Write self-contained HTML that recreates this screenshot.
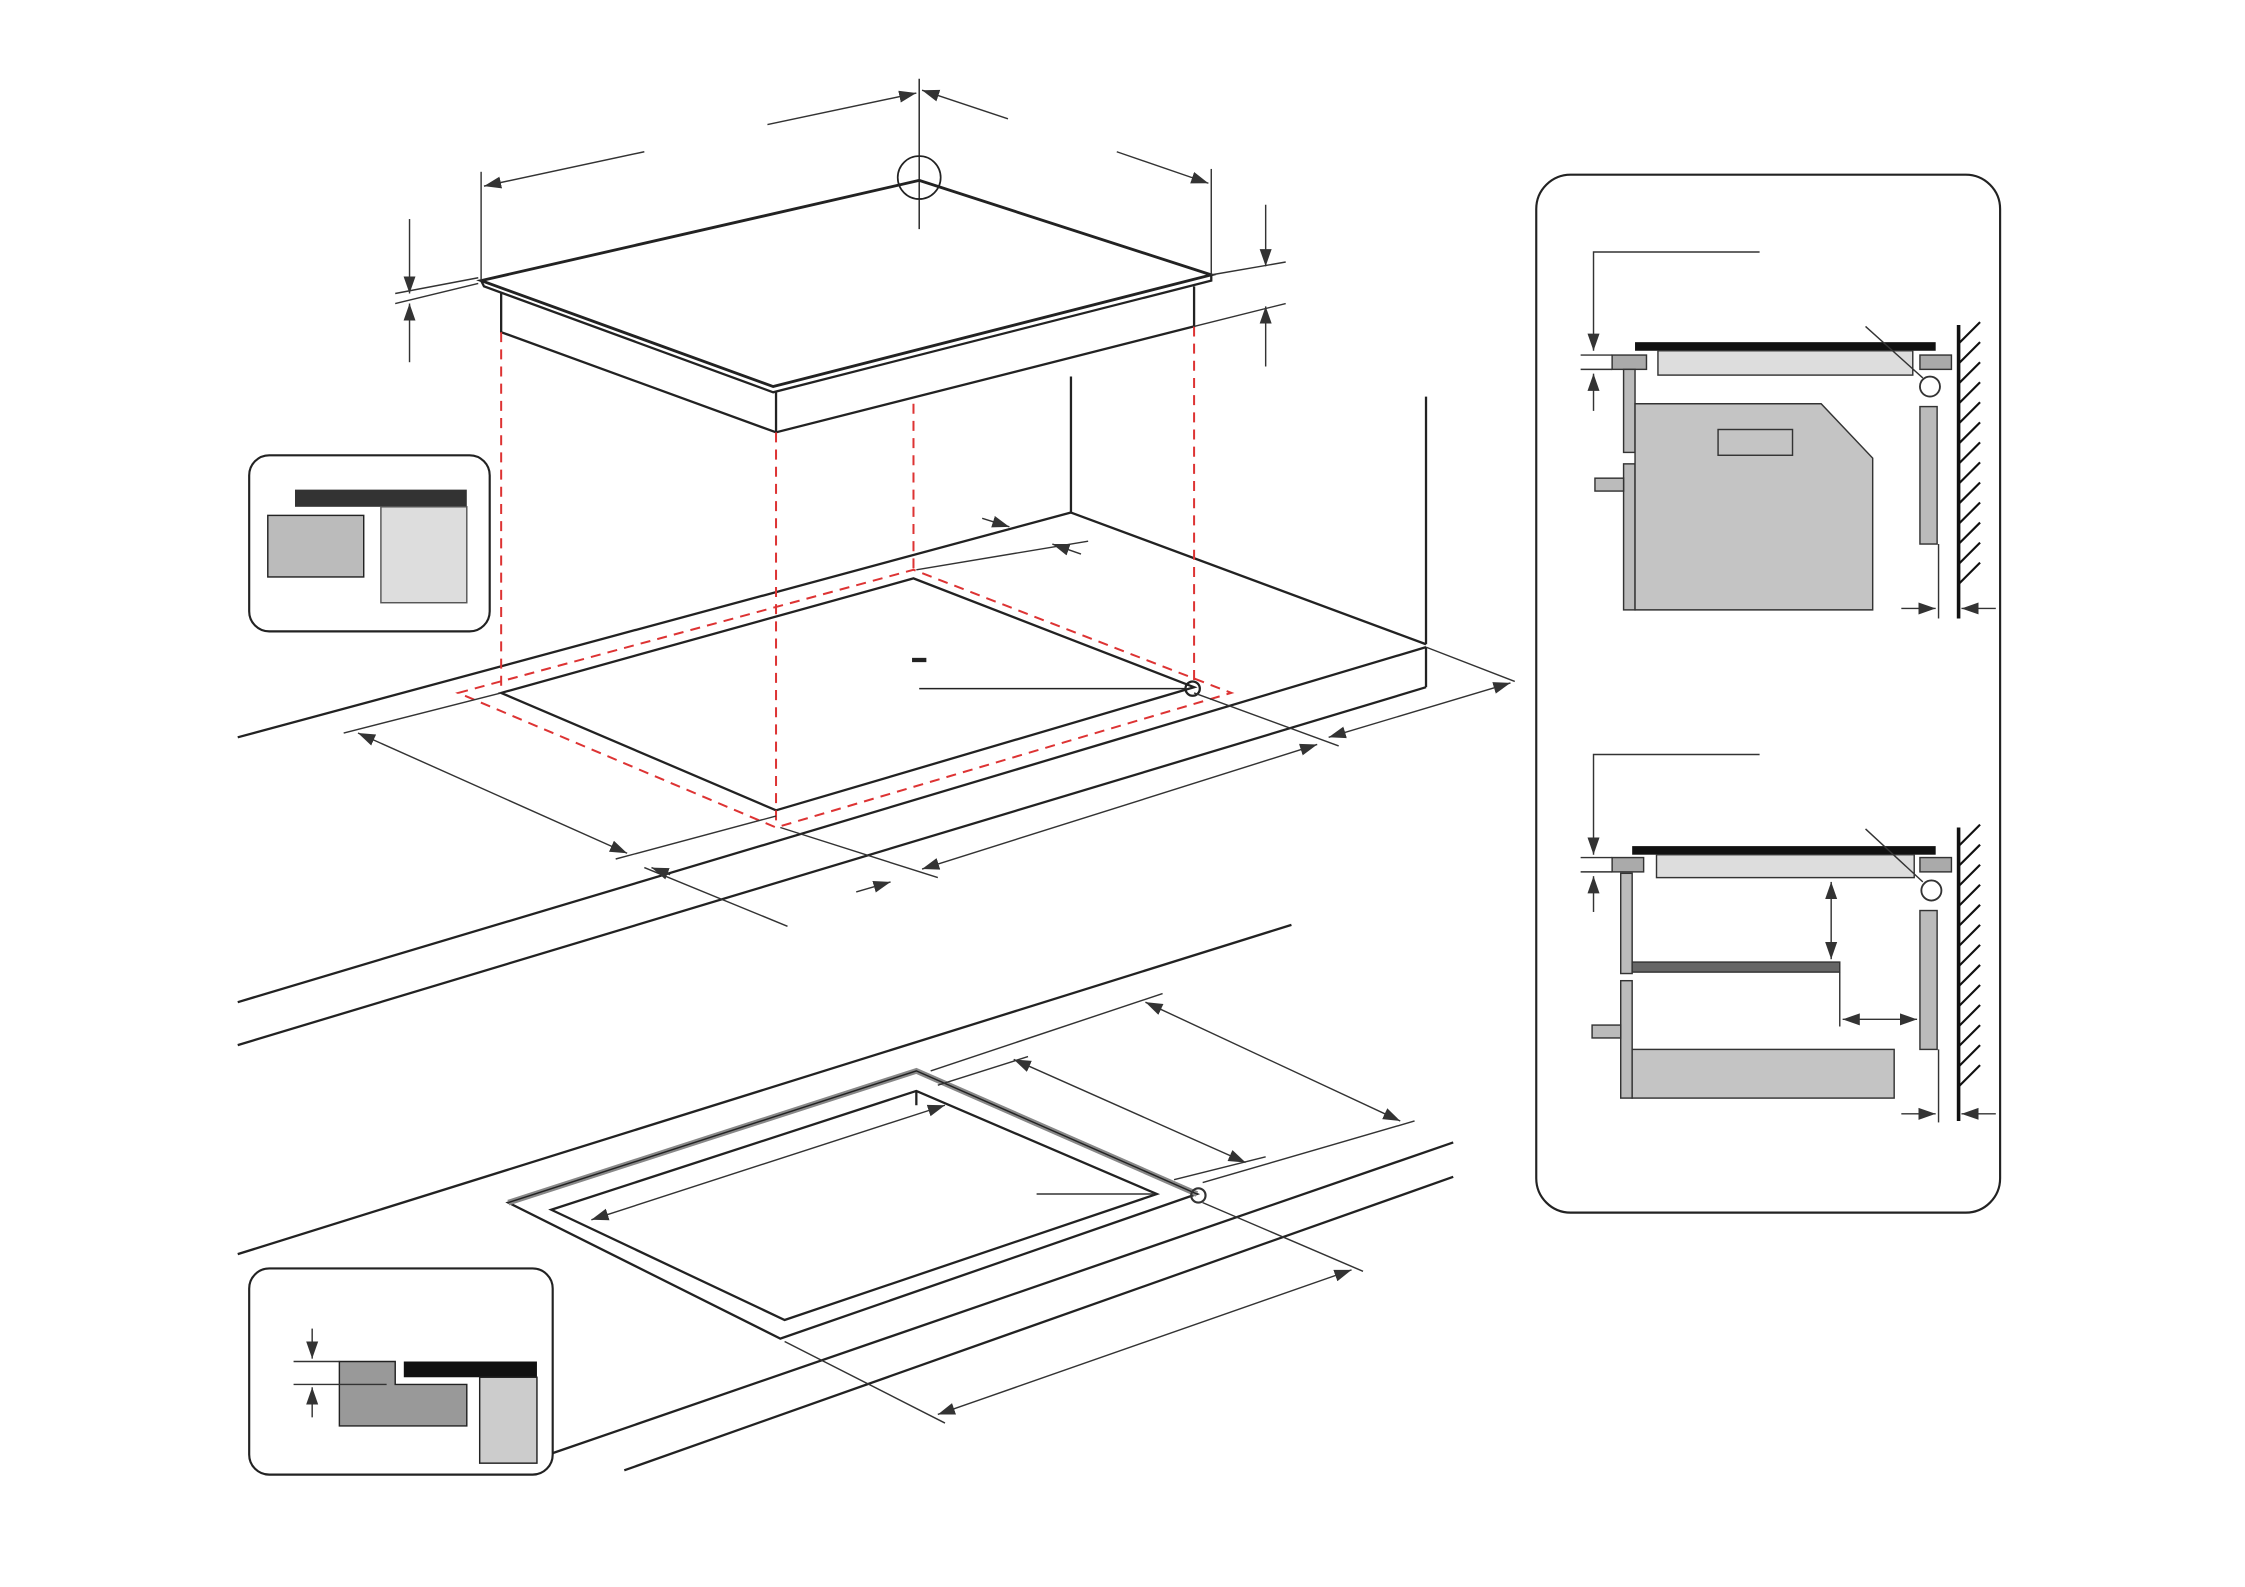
<!DOCTYPE html>
<html><head><meta charset="utf-8"><style>html,body{margin:0;padding:0;background:#fff}svg{display:block}</style></head><body>
<svg width="2245" height="1587" viewBox="0 0 1568 1108.5" xmlns="http://www.w3.org/2000/svg">
<defs><marker id="a" viewBox="0 0 10 10" refX="10" refY="5" markerWidth="12" markerHeight="12" markerUnits="userSpaceOnUse" orient="auto-start-reverse"><path d="M0,1.5 L10,5 L0,8.5z" fill="#333"/></marker></defs>
<g fill="none" stroke="#222" stroke-width="1.6">
<polygon points="336,196 642,126 846,192 540,270" stroke-width="2"/>
<polyline points="336,196 338,200 540,274 846,196 846,192"/>
<polyline points="350,205 350,232 542,302 834,228 834,200"/>
<line x1="542" y1="274" x2="542" y2="302"/>
<circle cx="642" cy="124" r="15" stroke-width="1.2"/>
<line x1="642" y1="55" x2="642" y2="160" stroke-width="1"/>
<line x1="166" y1="515" x2="748" y2="358"/>
<line x1="748" y1="358" x2="996" y2="450"/>
<line x1="166" y1="700" x2="996" y2="452"/>
<line x1="166" y1="730" x2="996" y2="480"/>
<line x1="996" y1="452" x2="996" y2="480"/>
<line x1="748" y1="263" x2="748" y2="358"/>
<line x1="996" y1="277" x2="996" y2="450"/>
<polygon points="350,484 638,404 834,480 542,566"/>
<circle cx="833" cy="481" r="5"/>
<line x1="642" y1="481" x2="828" y2="481" stroke-width="1"/>
<line x1="637" y1="461" x2="647" y2="461" stroke-width="3"/>
</g>
<g fill="none" stroke="#d33" stroke-width="1.4" stroke-dasharray="7,5">
<polygon points="320,484 638,398 860,484 542,578"/>
<line x1="350" y1="232" x2="350" y2="484"/><line x1="542" y1="302" x2="542" y2="578"/>
<line x1="638" y1="282" x2="638" y2="398"/><line x1="834" y1="228" x2="834" y2="480"/>
</g>
<g stroke="#333" stroke-width="1" fill="none">
<line x1="336" y1="196" x2="336" y2="120"/><line x1="846" y1="192" x2="846" y2="118"/>
<line x1="450" y1="106" x2="338" y2="130" marker-end="url(#a)"/>
<line x1="780" y1="106" x2="844" y2="128" marker-end="url(#a)"/>
<line x1="536" y1="87" x2="640" y2="65" marker-end="url(#a)"/>
<line x1="704" y1="83" x2="644" y2="63" marker-end="url(#a)"/>
<line x1="276" y1="212" x2="334" y2="198"/><line x1="276" y1="205" x2="334" y2="194"/>
<line x1="286" y1="153" x2="286" y2="205" marker-end="url(#a)"/><line x1="286" y1="253" x2="286" y2="212" marker-end="url(#a)"/>
<line x1="846" y1="192" x2="898" y2="183"/><line x1="834" y1="228" x2="898" y2="212"/>
<line x1="884" y1="143" x2="884" y2="186" marker-end="url(#a)"/><line x1="884" y1="256" x2="884" y2="214" marker-end="url(#a)"/>
<line x1="240" y1="512" x2="350" y2="484"/><line x1="430" y1="600" x2="542" y2="570"/>
<line x1="250" y1="512" x2="438" y2="596" marker-start="url(#a)" marker-end="url(#a)"/>
<line x1="450" y1="606" x2="550" y2="647"/><line x1="455" y1="606" x2="468" y2="611" marker-start="url(#a)"/>
<line x1="545" y1="578" x2="655" y2="613"/>
<line x1="598" y1="623" x2="622" y2="616" marker-end="url(#a)"/>
<line x1="644" y1="607" x2="920" y2="520" marker-start="url(#a)" marker-end="url(#a)"/>
<line x1="834" y1="484" x2="935" y2="521"/>
<line x1="928" y1="515" x2="1055" y2="477" marker-start="url(#a)" marker-end="url(#a)"/>
<line x1="996" y1="452" x2="1058" y2="476"/>
<line x1="640" y1="398" x2="760" y2="378"/><line x1="735" y1="380" x2="755" y2="387" marker-start="url(#a)"/>
<line x1="686" y1="362" x2="705" y2="368" marker-end="url(#a)"/>
</g>
<g fill="none" stroke="#222" stroke-width="1.6">
<line x1="166" y1="876" x2="902" y2="646"/>
<line x1="386" y1="1015" x2="1015" y2="798"/>
<line x1="436" y1="1027" x2="1015" y2="822"/>
<polygon points="355,840 640,748 836,834 545,935"/>
<polygon points="385,845 640,762 808,834 548,922"/>
<line x1="640" y1="762" x2="640" y2="772"/>
</g>
<polyline points="355,840 640,748 836,834" fill="none" stroke="#888" stroke-width="4"/>
<polyline points="355,840 640,748 836,834" fill="none" stroke="#222" stroke-width="1"/>
<g stroke="#333" stroke-width="1" fill="none">
<circle cx="837" cy="835" r="5" stroke-width="1.5"/>
<line x1="724" y1="834" x2="806" y2="834"/>
<line x1="413" y1="852" x2="660" y2="772" marker-start="url(#a)" marker-end="url(#a)"/>
<line x1="650" y1="748" x2="812" y2="694"/><line x1="655" y1="758" x2="718" y2="738"/>
<line x1="708" y1="740" x2="870" y2="812" marker-start="url(#a)" marker-end="url(#a)"/>
<line x1="800" y1="700" x2="978" y2="783" marker-start="url(#a)" marker-end="url(#a)"/>
<line x1="840" y1="826" x2="988" y2="783"/><line x1="820" y1="824" x2="884" y2="808"/>
<line x1="840" y1="840" x2="952" y2="888"/><line x1="548" y1="937" x2="660" y2="994"/>
<line x1="655" y1="988" x2="944" y2="887" marker-start="url(#a)" marker-end="url(#a)"/>
</g>
<rect x="174" y="318" width="168" height="123" rx="14" fill="#fff" stroke="#222" stroke-width="1.5"/>
<rect x="206" y="342" width="120" height="12" fill="#333"/>
<rect x="266" y="354" width="60" height="67" fill="#ddd" stroke="#555"/>
<rect x="187" y="360" width="67" height="43" fill="#bbb" stroke="#222"/>
<rect x="174" y="886" width="212" height="144" rx="14" fill="#fff" stroke="#222" stroke-width="1.5"/>
<rect x="282" y="951" width="93" height="11" fill="#111"/>
<rect x="335" y="962" width="40" height="60" fill="#ccc" stroke="#222"/>
<polygon points="237,951 276,951 276,967 326,967 326,996 237,996" fill="#999" stroke="#222"/>
<g stroke="#333" stroke-width="1"><line x1="205" y1="951" x2="237" y2="951"/><line x1="205" y1="967" x2="270" y2="967"/>
<line x1="218" y1="928" x2="218" y2="949" marker-end="url(#a)"/><line x1="218" y1="990" x2="218" y2="969" marker-end="url(#a)"/></g>
<rect x="1073" y="122" width="324" height="725" rx="24" fill="#fff" stroke="#222" stroke-width="1.5"/>
<g id="w">
<line x1="1368" y1="227" x2="1368" y2="432" stroke="#111" stroke-width="2.5"/>
<g stroke="#111" stroke-width="1.5">
<path d="M1368,240 l15,-15 M1368,254 l15,-15 M1368,268 l15,-15 M1368,282 l15,-15 M1368,296 l15,-15 M1368,310 l15,-15 M1368,324 l15,-15 M1368,338 l15,-15 M1368,352 l15,-15 M1368,366 l15,-15 M1368,380 l15,-15 M1368,394 l15,-15 M1368,408 l15,-15"/>
</g></g>
<rect x="1142" y="239" width="210" height="6" fill="#111"/>
<rect x="1158" y="245" width="178" height="17" fill="#ddd" stroke="#333"/>
<rect x="1126" y="248" width="24" height="10" fill="#aaa" stroke="#333"/>
<rect x="1341" y="248" width="22" height="10" fill="#aaa" stroke="#333"/>
<circle cx="1348" cy="270" r="7" fill="#fff" stroke="#333" stroke-width="1.3"/>
<line x1="1303" y1="228" x2="1343" y2="264" stroke="#333"/>
<rect x="1134" y="258" width="8" height="58" fill="#bbb" stroke="#333"/>
<rect x="1134" y="324" width="8" height="102" fill="#bbb" stroke="#333"/>
<polygon points="1142,282 1272,282 1308,320 1308,426 1142,426" fill="#c4c4c4" stroke="#333"/>
<rect x="1200" y="300" width="52" height="18" fill="#c4c4c4" stroke="#333"/>
<rect x="1114" y="334" width="20" height="9" fill="#bbb" stroke="#333"/>
<rect x="1341" y="284" width="12" height="96" fill="#bbb" stroke="#333"/>
<g stroke="#333" stroke-width="1" fill="none">
<polyline points="1229,176 1113,176 1113,245" marker-end="url(#a)"/>
<line x1="1104" y1="248" x2="1126" y2="248"/><line x1="1104" y1="258" x2="1126" y2="258"/>
<line x1="1113" y1="287" x2="1113" y2="261" marker-end="url(#a)"/>
<line x1="1354" y1="380" x2="1354" y2="432"/>
<line x1="1328" y1="425" x2="1352" y2="425" marker-end="url(#a)"/><line x1="1394" y1="425" x2="1370" y2="425" marker-end="url(#a)"/>
</g>
<use href="#w" transform="translate(0,351)"/>
<rect x="1140" y="591" width="212" height="6" fill="#111"/>
<rect x="1157" y="597" width="180" height="16" fill="#ddd" stroke="#333"/>
<rect x="1126" y="599" width="22" height="10" fill="#aaa" stroke="#333"/>
<rect x="1341" y="599" width="22" height="10" fill="#aaa" stroke="#333"/>
<circle cx="1349" cy="622" r="7" fill="#fff" stroke="#333" stroke-width="1.3"/>
<line x1="1303" y1="579" x2="1343" y2="616" stroke="#333"/>
<rect x="1132" y="610" width="8" height="70" fill="#bbb" stroke="#333"/>
<rect x="1132" y="685" width="8" height="82" fill="#bbb" stroke="#333"/>
<rect x="1140" y="672" width="145" height="7" fill="#666" stroke="#333"/>
<rect x="1140" y="733" width="183" height="34" fill="#c4c4c4" stroke="#333"/>
<rect x="1112" y="716" width="20" height="9" fill="#bbb" stroke="#333"/>
<rect x="1341" y="636" width="12" height="97" fill="#bbb" stroke="#333"/>
<g stroke="#333" stroke-width="1" fill="none">
<polyline points="1229,527 1113,527 1113,597" marker-end="url(#a)"/>
<line x1="1104" y1="599" x2="1126" y2="599"/><line x1="1104" y1="609" x2="1126" y2="609"/>
<line x1="1113" y1="637" x2="1113" y2="612" marker-end="url(#a)"/>
<line x1="1279" y1="616" x2="1279" y2="670" marker-start="url(#a)" marker-end="url(#a)"/>
<line x1="1285" y1="679" x2="1285" y2="717"/>
<line x1="1287" y1="712" x2="1339" y2="712" marker-start="url(#a)" marker-end="url(#a)"/>
<line x1="1354" y1="733" x2="1354" y2="784"/>
<line x1="1328" y1="778" x2="1352" y2="778" marker-end="url(#a)"/><line x1="1394" y1="778" x2="1370" y2="778" marker-end="url(#a)"/>
</g>
</svg>
</body></html>
